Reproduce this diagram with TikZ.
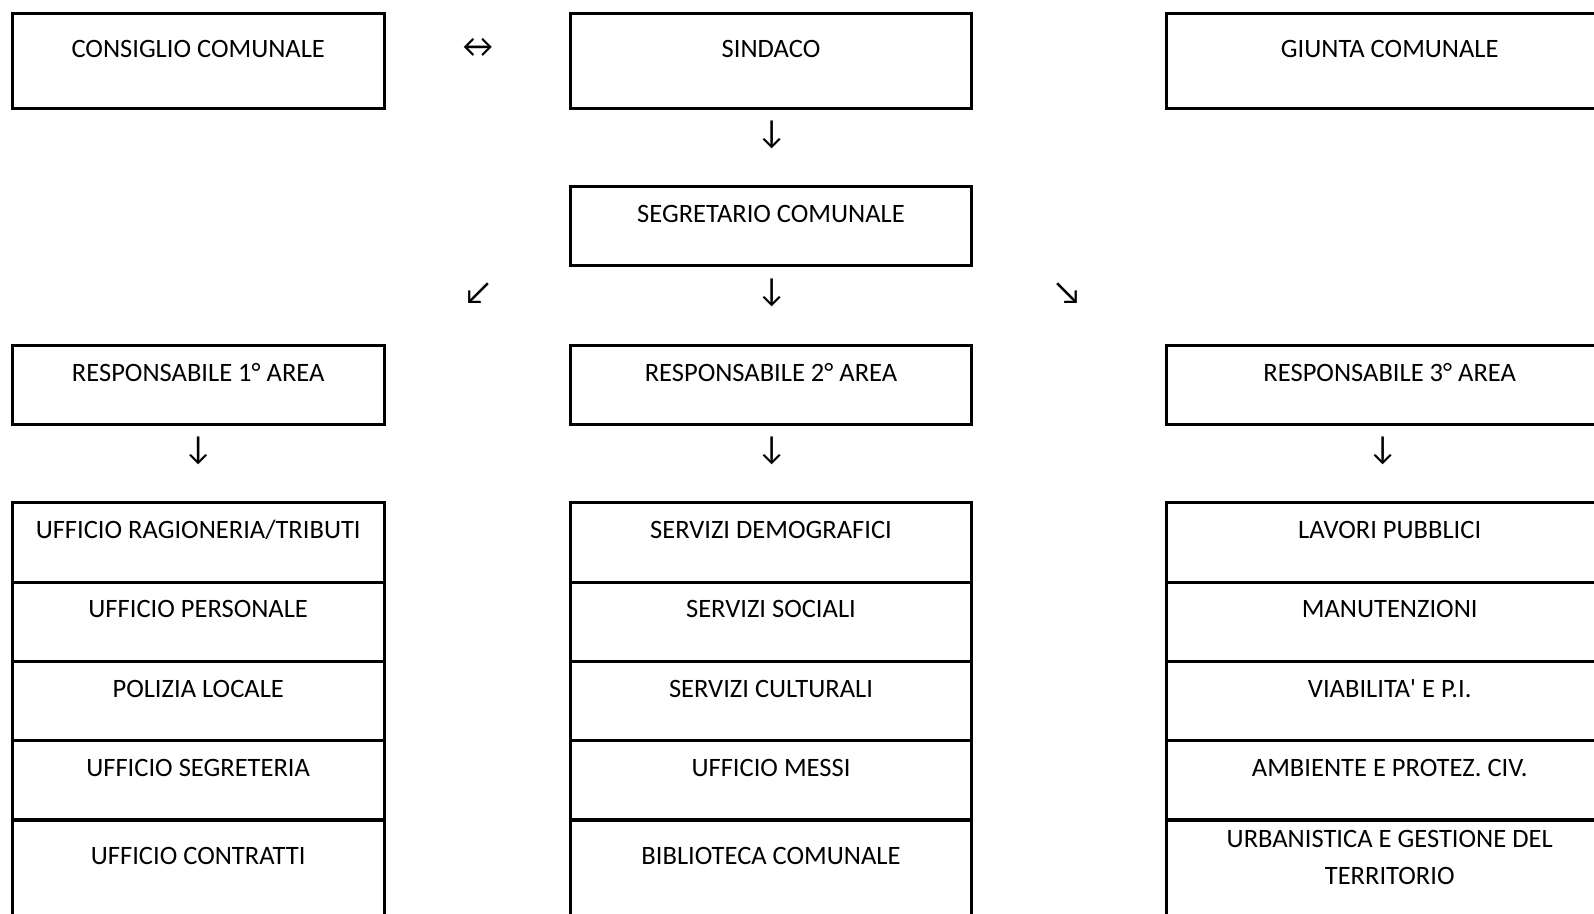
\documentclass[tikz,border=0pt]{standalone}
\usepackage{fontspec}
\setmainfont{Carlito}
\begin{document}
\begin{tikzpicture}[x=0.02cm,y=-0.02cm,
  font=\fontsize{15.1}{20.8}\selectfont,
  ufficio/.style={draw, line width=1.7pt, anchor=north, inner xsep=0pt, inner ysep=0pt, align=center},
  colA/.style={ufficio, minimum width=7.44cm},
  colB/.style={ufficio, minimum width=8.03cm},
  colC/.style={ufficio, minimum width=8.94cm},
  rigaAlta/.style={text height=0.88cm, text depth=1.01cm},
  riga/.style={text height=0.72cm, text depth=0.87cm},
  rigaUltima/.style={text height=0.9cm, text depth=1.34cm},
  freccia/.style={inner sep=0pt, font=\fontsize{19}{20}\selectfont}]
\useasboundingbox (0,0) rectangle (1594,913);
\clip (0,0) rectangle (1594,913);

\node[colA, rigaAlta] (consiglio) at (198.2,12.2) {CONSIGLIO COMUNALE};
\node[colB, rigaAlta] (sindaco) at (771,12.2) {SINDACO};
\node[colC, rigaAlta] (giunta) at (1389.7,12.2) {GIUNTA COMUNALE};
\node[freccia] (fr1) at (477.8,47.8) {↔};
\node[freccia] (fr2) at (771.6,135.2) {↓};

\node[colB, riga] (segretario) at (771,185) {SEGRETARIO COMUNALE};
\node[freccia] (fr3) at (477.8,292.8) {↙};
\node[freccia] (fr4) at (771.6,292.8) {↓};
\node[freccia] (fr5) at (1067.4,292.8) {↘};

\node[colA, riga] (resp1) at (198.2,343.6) {RESPONSABILE 1° AREA};
\node[colB, riga] (resp2) at (771,343.6) {RESPONSABILE 2° AREA};
\node[colC, riga] (resp3) at (1389.7,343.6) {RESPONSABILE 3° AREA};
\node[freccia] (fr6) at (198.2,451.4) {↓};
\node[freccia] (fr7) at (771.6,451.4) {↓};
\node[freccia] (fr8) at (1382.6,451.4) {↓};

% prima area
\node[colA, riga] (ragioneria) at (198.2,501.2) {UFFICIO RAGIONERIA/TRIBUTI};
\node[colA, riga] (personale) at (198.2,580.5) {UFFICIO PERSONALE};
\node[colA, riga] (polizia) at (198.2,659.8) {POLIZIA LOCALE};
\node[colA, riga] (segreteria) at (198.2,739.1) {UFFICIO SEGRETERIA};
\node[colA, rigaUltima] (contratti) at (198.2,818.4) {UFFICIO CONTRATTI};

% seconda area
\node[colB, riga] (demografici) at (771,501.2) {SERVIZI DEMOGRAFICI};
\node[colB, riga] (sociali) at (771,580.5) {SERVIZI SOCIALI};
\node[colB, riga] (culturali) at (771,659.8) {SERVIZI CULTURALI};
\node[colB, riga] (messi) at (771,739.1) {UFFICIO MESSI};
\node[colB, rigaUltima] (biblioteca) at (771,818.4) {BIBLIOTECA COMUNALE};

% terza area
\node[colC, riga] (lavori) at (1389.7,501.2) {LAVORI PUBBLICI};
\node[colC, riga] (manutenzioni) at (1389.7,580.5) {MANUTENZIONI};
\node[colC, riga] (viabilita) at (1389.7,659.8) {VIABILITA\textquotesingle{} E P.I.};
\node[colC, riga] (ambiente) at (1389.7,739.1) {AMBIENTE E PROTEZ. CIV.};
\node[colC, text height=1.29cm, text depth=0.95cm] (urbanistica) at (1389.7,818.4) {URBANISTICA E GESTIONE DEL\\TERRITORIO};
\end{tikzpicture}
\end{document}
